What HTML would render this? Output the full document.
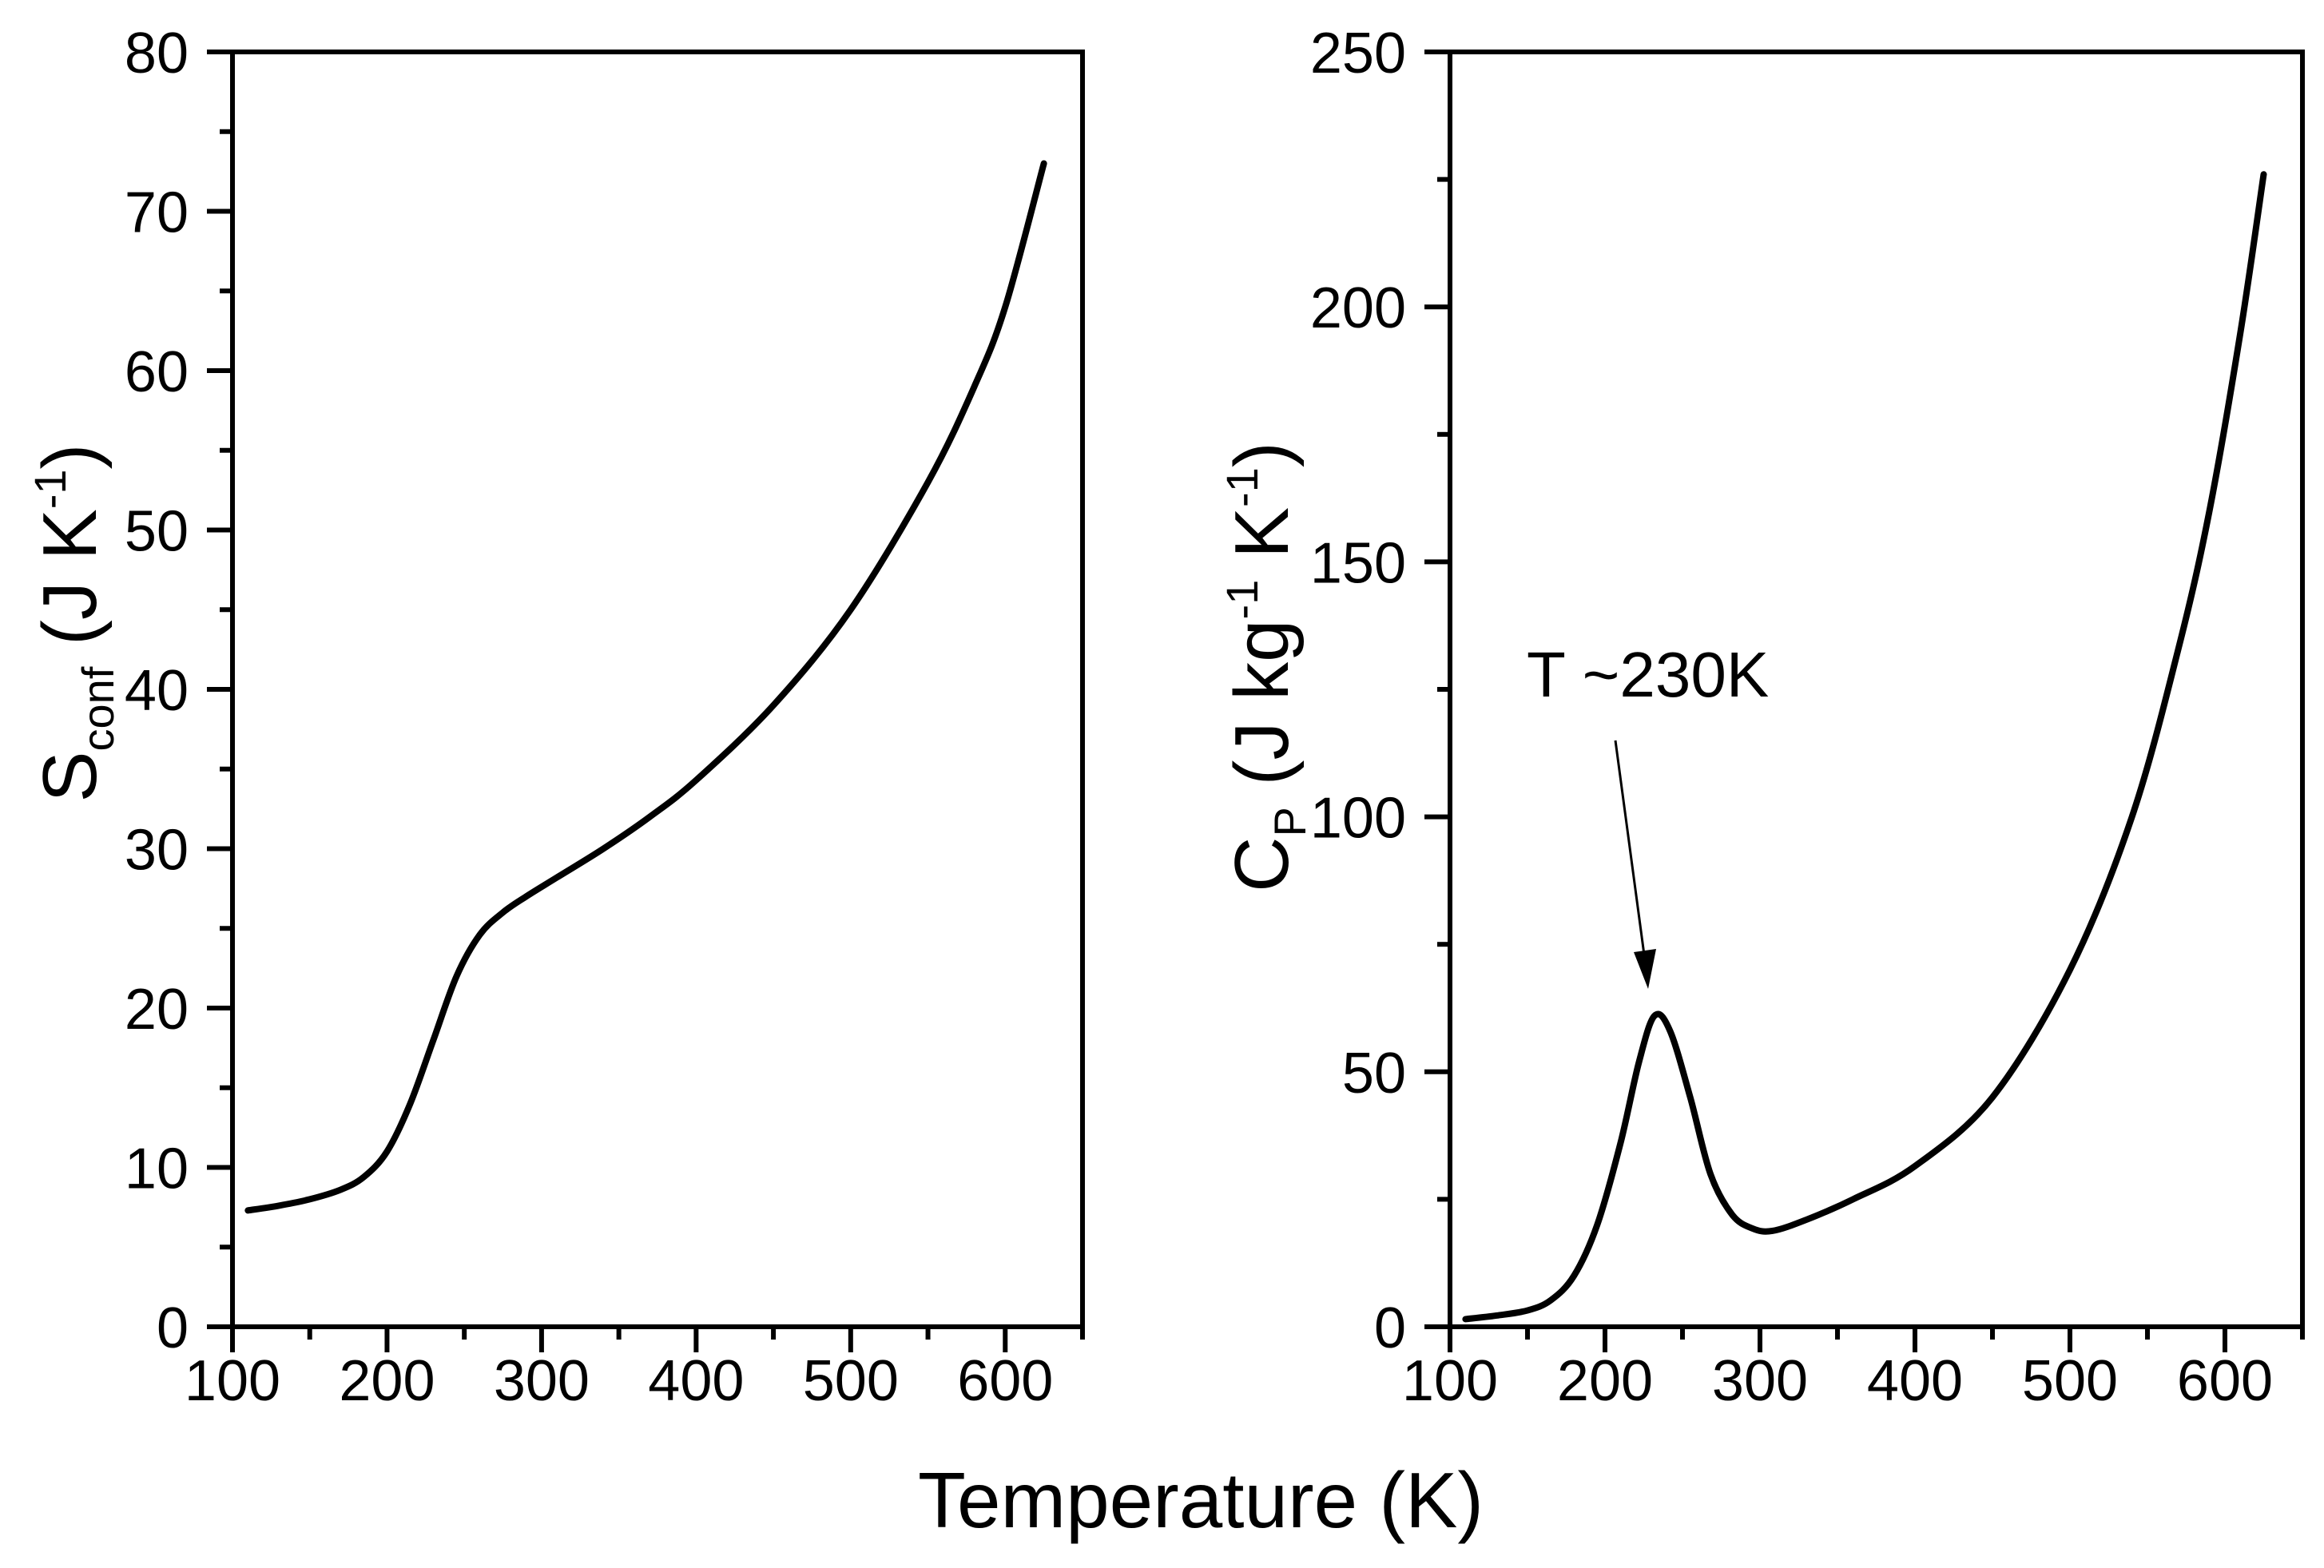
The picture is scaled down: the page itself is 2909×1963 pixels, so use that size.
<!DOCTYPE html>
<html><head><meta charset="utf-8"><style>
html,body{margin:0;padding:0;background:#fff}
svg{display:block;font-family:"Liberation Sans",Arial,sans-serif}
</style></head><body>
<svg id="c" width="2909" height="1963" viewBox="0 0 2909 1963"></svg>
<script>
const xTicks=[100,200,300,400,500,600];
const leftYTicks=[0,10,20,30,40,50,60,70,80];
const rightYTicks=[0,50,100,150,200,250];
const leftT=[110,130,150,170,185,200,215,230,245,260,275,290,310,340,370,400,450,500,550,580,600,625];
const leftS=[7.3,7.6,8.0,8.6,9.4,11.0,14.0,18.0,22.0,24.6,26.0,27.0,28.2,30.0,32.0,34.3,39.0,45.0,53.0,59.0,64.0,73.0];
const rightT=[110,130,150,165,180,195,210,222,232,242,255,268,282,295,308,330,360,400,450,500,540,570,590,610,625];
const rightCp=[1.5,2.2,3.2,5.2,10.0,20.0,36.0,52.0,61.0,58.0,45.0,30.0,22.0,19.3,18.8,21.0,25.0,31.5,45.0,70.0,100.0,133.0,160.0,195.0,226.0];
const NS='http://www.w3.org/2000/svg';
const svg=document.getElementById('c');
function mk(tag,attrs,parent){const e=document.createElementNS(NS,tag);for(const k in attrs)e.setAttribute(k,attrs[k]);(parent||svg).appendChild(e);return e;}
function smooth(pts){let d='M'+pts[0][0]+','+pts[0][1];for(let i=0;i<pts.length-1;i++){const p0=pts[Math.max(0,i-1)],p1=pts[i],p2=pts[i+1],p3=pts[Math.min(pts.length-1,i+2)];const c1=[p1[0]+(p2[0]-p0[0])/6,p1[1]+(p2[1]-p0[1])/6],c2=[p2[0]-(p3[0]-p1[0])/6,p2[1]-(p3[1]-p1[1])/6];d+=' C'+c1+' '+c2+' '+p2;}return d;}
function panel(o){
  const sx=v=>o.x0+(v-100)/550*(o.x1-o.x0);
  const sy=v=>o.y1-(v-0)/o.ymax*(o.y1-o.y0);
  const g=mk('g',{});
  
  
  const frame=mk('rect',{x:o.x0,y:o.y0,width:o.x1-o.x0,height:o.y1-o.y0,fill:'none',stroke:'#000','stroke-width':6},g);
  
  
  for(let v=100;v<=650;v+=50){const x=sx(v);const major=v%100===0;
    const t=mk('line',{x1:x,y1:o.y1,x2:x,y2:o.y1+(major?32:16),stroke:'#000','stroke-width':6},g);
    
    }
  xTicks.forEach(v=>{const t=mk('text',{x:sx(v),y:o.y1+92,'font-size':72,'text-anchor':'middle'},g);t.textContent=v;
    
    });
  const step=o.yTicks[1]-o.yTicks[0];
  for(let v=0;v<=o.ymax+1e-9;v+=step/2){const y=sy(v);const major=Math.abs(v/step-Math.round(v/step))<1e-6;
    const t=mk('line',{x1:o.x0,y1:y,x2:o.x0-(major?32:16),y2:y,stroke:'#000','stroke-width':6},g);
    
    }
  o.yTicks.forEach(v=>{const t=mk('text',{x:o.x0-55,y:sy(v)+26,'font-size':72,'text-anchor':'end'},g);t.textContent=v;
    
    });
  const pts=o.xs.map((v,i)=>[sx(v),sy(o.ys[i])]);
  const p=mk('path',{d:smooth(pts),fill:'none',stroke:'#000','stroke-width':8,'stroke-linejoin':'round','stroke-linecap':'round'},g);
  
  
  return {sx,sy};
}
panel({name:'left-panel',lineName:'sconf-line',x0:291,x1:1355,y0:65,y1:1661,ymax:80,yTicks:leftYTicks,xs:leftT,ys:leftS});
panel({name:'right-panel',lineName:'cp-line',x0:1815,x1:2882,y0:65,y1:1661,ymax:250,yTicks:rightYTicks,xs:rightT,ys:rightCp});
</script>
<svg style="position:absolute;left:0;top:0" width="2909" height="1963">
<g font-family="Liberation Sans, Arial, sans-serif">
<text x="1503" y="1912" font-size="98" text-anchor="middle">Temperature (K)</text>
<text transform="translate(120,780) rotate(-90)" font-size="96" text-anchor="middle">S<tspan font-size="56" dy="22">conf</tspan><tspan dy="-22"> (J K</tspan><tspan font-size="56" dy="-38">-1</tspan><tspan dy="38">)</tspan></text>
<text transform="translate(1612,835) rotate(-90)" font-size="96" text-anchor="middle">C<tspan font-size="56" dy="22">P</tspan><tspan dy="-22"> (J kg</tspan><tspan font-size="56" dy="-38">-1</tspan><tspan dy="38"> K</tspan><tspan font-size="56" dy="-38">-1</tspan><tspan dy="38">)</tspan></text>
<text x="1911" y="872" font-size="80">T ~230K</text>
<line x1="2022" y1="927" x2="2058" y2="1195" stroke="#000" stroke-width="3"/>
<polygon points="2063,1238 2045,1192 2073,1188" fill="#000"/>
</g></svg>
</body></html>
